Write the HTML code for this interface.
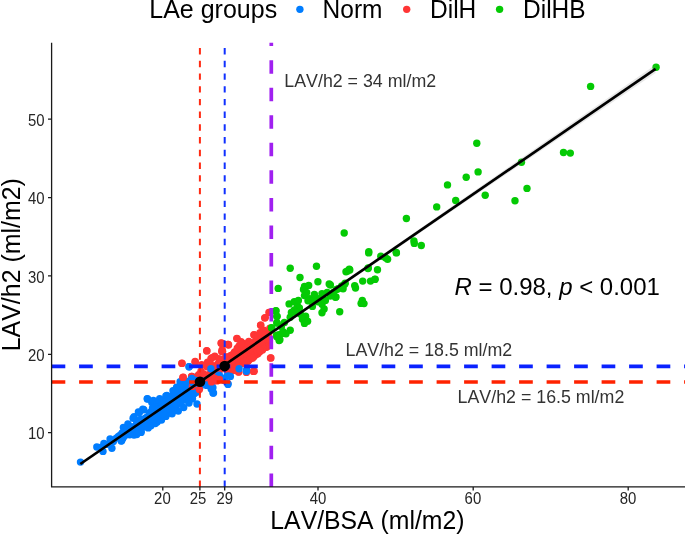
<!DOCTYPE html>
<html lang="en"><head><meta charset="utf-8"><title>LAV/BSA vs LAV/h2</title>
<style>html,body{margin:0;padding:0;background:#fff}body{width:685px;height:535px;overflow:hidden}</style></head>
<body>
<svg width="685" height="535" viewBox="0 0 685 535" style="display:block;font-family:'Liberation Sans',Arial,sans-serif;font-kerning:none;will-change:transform">
<rect width="685" height="535" fill="#fff"/>
<g fill="#007dff"><circle cx="80.5" cy="462.1" r="3.7"/><circle cx="96.8" cy="447.0" r="3.7"/><circle cx="103.0" cy="451.4" r="3.7"/><circle cx="111.9" cy="448.2" r="3.7"/><circle cx="103.9" cy="443.4" r="3.7"/><circle cx="110.1" cy="439.0" r="3.7"/><circle cx="116.3" cy="438.1" r="3.7"/><circle cx="121.6" cy="440.8" r="3.7"/><circle cx="123.4" cy="427.4" r="3.7"/><circle cx="127.9" cy="423.9" r="3.7"/><circle cx="134.1" cy="416.8" r="3.7"/><circle cx="139.4" cy="412.4" r="3.7"/><circle cx="143.8" cy="409.7" r="3.7"/><circle cx="147.4" cy="399.0" r="3.7"/><circle cx="151.8" cy="402.6" r="3.7"/><circle cx="131.4" cy="433.7" r="3.7"/><circle cx="136.7" cy="434.5" r="3.7"/><circle cx="141.2" cy="431.0" r="3.7"/><circle cx="145.6" cy="426.6" r="3.7"/><circle cx="150.9" cy="425.7" r="3.7"/><circle cx="157.2" cy="422.1" r="3.7"/><circle cx="161.6" cy="417.7" r="3.7"/><circle cx="166.9" cy="414.1" r="3.7"/><circle cx="174.0" cy="410.6" r="3.7"/><circle cx="159.8" cy="399.9" r="3.7"/><circle cx="166.9" cy="395.5" r="3.7"/><circle cx="174.0" cy="391.1" r="3.7"/><circle cx="177.6" cy="387.5" r="3.7"/><circle cx="147.3" cy="398.7" r="3.7"/><circle cx="153.4" cy="400.4" r="3.7"/><circle cx="159.7" cy="398.7" r="3.7"/><circle cx="165.9" cy="396.0" r="3.7"/><circle cx="173.0" cy="390.7" r="3.7"/><circle cx="176.6" cy="387.1" r="3.7"/><circle cx="180.1" cy="381.8" r="3.7"/><circle cx="183.7" cy="380.0" r="3.7"/><circle cx="187.4" cy="381.4" r="3.7"/><circle cx="134.0" cy="435.0" r="3.7"/><circle cx="141.1" cy="432.4" r="3.7"/><circle cx="148.2" cy="427.9" r="3.7"/><circle cx="155.3" cy="423.5" r="3.7"/><circle cx="161.5" cy="420.0" r="3.7"/><circle cx="165.9" cy="416.4" r="3.7"/><circle cx="172.1" cy="413.7" r="3.7"/><circle cx="178.3" cy="411.1" r="3.7"/><circle cx="183.7" cy="407.5" r="3.7"/><circle cx="189.0" cy="403.1" r="3.7"/><circle cx="192.5" cy="398.7" r="3.7"/><circle cx="197.0" cy="404.0" r="3.7"/><circle cx="206.7" cy="385.4" r="3.7"/><circle cx="211.2" cy="388.9" r="3.7"/><circle cx="213.0" cy="393.0" r="3.7"/><circle cx="228.0" cy="383.6" r="3.7"/><circle cx="219.2" cy="374.7" r="3.7"/><circle cx="227.1" cy="375.6" r="3.7"/><circle cx="211.2" cy="369.4" r="3.7"/><circle cx="189.0" cy="366.7" r="3.7"/><circle cx="192.5" cy="378.2" r="3.7"/><circle cx="246.7" cy="369.4" r="3.7"/><circle cx="142.8" cy="409.3" r="3.7"/><circle cx="138.4" cy="412.0" r="3.7"/><circle cx="133.1" cy="418.2" r="3.7"/><circle cx="100.4" cy="447.4" r="3.7"/><circle cx="106.4" cy="444.4" r="3.7"/><circle cx="113.4" cy="441.4" r="3.7"/><circle cx="118.4" cy="436.4" r="3.7"/><circle cx="125.4" cy="432.4" r="3.7"/><circle cx="128.4" cy="429.4" r="3.7"/><circle cx="130.1" cy="427.9" r="3.7"/><circle cx="139.9" cy="420.0" r="3.7"/><circle cx="136.5" cy="425.5" r="3.7"/><circle cx="122.1" cy="437.0" r="3.7"/><circle cx="121.5" cy="436.7" r="3.7"/><circle cx="122.5" cy="432.9" r="3.7"/><circle cx="133.1" cy="432.4" r="3.7"/><circle cx="124.1" cy="433.0" r="3.7"/><circle cx="139.2" cy="429.5" r="3.7"/><circle cx="137.7" cy="424.9" r="3.7"/><circle cx="149.7" cy="412.6" r="3.7"/><circle cx="146.2" cy="417.8" r="3.7"/><circle cx="124.7" cy="431.5" r="3.7"/><circle cx="129.7" cy="434.7" r="3.7"/><circle cx="125.8" cy="435.1" r="3.7"/><circle cx="139.6" cy="423.3" r="3.7"/><circle cx="136.8" cy="422.2" r="3.7"/><circle cx="122.2" cy="434.2" r="3.7"/><circle cx="140.8" cy="423.0" r="3.7"/><circle cx="129.8" cy="432.3" r="3.7"/><circle cx="134.0" cy="426.6" r="3.7"/><circle cx="144.2" cy="423.5" r="3.7"/><circle cx="127.7" cy="433.7" r="3.7"/><circle cx="136.2" cy="430.8" r="3.7"/><circle cx="142.3" cy="420.5" r="3.7"/><circle cx="149.8" cy="413.3" r="3.7"/><circle cx="132.9" cy="431.8" r="3.7"/><circle cx="125.0" cy="434.8" r="3.7"/><circle cx="121.6" cy="438.8" r="3.7"/><circle cx="143.3" cy="422.8" r="3.7"/><circle cx="146.7" cy="417.7" r="3.7"/><circle cx="141.3" cy="424.4" r="3.7"/><circle cx="137.8" cy="425.5" r="3.7"/><circle cx="145.6" cy="425.2" r="3.7"/><circle cx="134.6" cy="429.8" r="3.7"/><circle cx="122.2" cy="438.7" r="3.7"/><circle cx="139.8" cy="429.6" r="3.7"/><circle cx="145.1" cy="418.5" r="3.7"/><circle cx="132.0" cy="431.6" r="3.7"/><circle cx="121.1" cy="437.3" r="3.7"/><circle cx="125.4" cy="431.0" r="3.7"/><circle cx="122.2" cy="439.3" r="3.7"/><circle cx="124.3" cy="433.1" r="3.7"/><circle cx="132.1" cy="433.5" r="3.7"/><circle cx="122.8" cy="436.0" r="3.7"/><circle cx="136.9" cy="430.4" r="3.7"/><circle cx="145.0" cy="424.7" r="3.7"/><circle cx="128.8" cy="431.4" r="3.7"/><circle cx="131.2" cy="434.3" r="3.7"/><circle cx="149.1" cy="414.1" r="3.7"/><circle cx="125.7" cy="431.9" r="3.7"/><circle cx="127.4" cy="433.1" r="3.7"/><circle cx="138.1" cy="423.3" r="3.7"/><circle cx="120.5" cy="437.3" r="3.7"/><circle cx="131.5" cy="431.0" r="3.7"/><circle cx="149.0" cy="420.1" r="3.7"/><circle cx="135.9" cy="428.4" r="3.7"/><circle cx="140.7" cy="419.2" r="3.7"/><circle cx="147.4" cy="422.2" r="3.7"/><circle cx="146.6" cy="422.9" r="3.7"/><circle cx="132.2" cy="428.9" r="3.7"/><circle cx="123.5" cy="437.2" r="3.7"/><circle cx="122.3" cy="432.9" r="3.7"/><circle cx="126.7" cy="430.5" r="3.7"/><circle cx="130.6" cy="426.6" r="3.7"/><circle cx="120.4" cy="435.0" r="3.7"/><circle cx="123.4" cy="434.7" r="3.7"/><circle cx="121.2" cy="441.0" r="3.7"/><circle cx="138.8" cy="421.6" r="3.7"/><circle cx="128.0" cy="431.4" r="3.7"/><circle cx="168.6" cy="397.8" r="3.7"/><circle cx="192.8" cy="395.0" r="3.7"/><circle cx="173.7" cy="399.5" r="3.7"/><circle cx="154.7" cy="407.7" r="3.7"/><circle cx="167.5" cy="400.6" r="3.7"/><circle cx="191.8" cy="381.3" r="3.7"/><circle cx="151.6" cy="421.1" r="3.7"/><circle cx="176.8" cy="392.1" r="3.7"/><circle cx="177.6" cy="389.7" r="3.7"/><circle cx="176.8" cy="405.1" r="3.7"/><circle cx="193.6" cy="389.3" r="3.7"/><circle cx="163.5" cy="405.0" r="3.7"/><circle cx="158.8" cy="414.0" r="3.7"/><circle cx="177.0" cy="401.8" r="3.7"/><circle cx="166.9" cy="400.5" r="3.7"/><circle cx="191.0" cy="396.0" r="3.7"/><circle cx="193.0" cy="391.6" r="3.7"/><circle cx="191.3" cy="391.6" r="3.7"/><circle cx="161.7" cy="408.4" r="3.7"/><circle cx="168.2" cy="396.7" r="3.7"/><circle cx="151.8" cy="412.2" r="3.7"/><circle cx="163.4" cy="409.8" r="3.7"/><circle cx="198.2" cy="381.8" r="3.7"/><circle cx="197.3" cy="392.0" r="3.7"/><circle cx="198.2" cy="380.4" r="3.7"/><circle cx="161.4" cy="404.5" r="3.7"/><circle cx="160.2" cy="405.0" r="3.7"/><circle cx="181.6" cy="400.7" r="3.7"/><circle cx="192.4" cy="386.4" r="3.7"/><circle cx="183.0" cy="398.2" r="3.7"/><circle cx="154.6" cy="415.2" r="3.7"/><circle cx="195.9" cy="389.3" r="3.7"/><circle cx="187.9" cy="389.5" r="3.7"/><circle cx="159.3" cy="413.8" r="3.7"/><circle cx="167.0" cy="408.9" r="3.7"/><circle cx="199.0" cy="380.3" r="3.7"/><circle cx="170.5" cy="408.8" r="3.7"/><circle cx="186.6" cy="385.3" r="3.7"/><circle cx="156.8" cy="406.8" r="3.7"/><circle cx="195.6" cy="389.9" r="3.7"/><circle cx="157.7" cy="415.4" r="3.7"/><circle cx="199.4" cy="384.7" r="3.7"/><circle cx="167.9" cy="404.5" r="3.7"/><circle cx="156.9" cy="404.8" r="3.7"/><circle cx="198.9" cy="384.9" r="3.7"/><circle cx="176.7" cy="404.5" r="3.7"/><circle cx="172.1" cy="406.6" r="3.7"/><circle cx="191.7" cy="382.3" r="3.7"/><circle cx="163.0" cy="404.3" r="3.7"/><circle cx="162.4" cy="408.9" r="3.7"/><circle cx="163.4" cy="405.8" r="3.7"/><circle cx="157.0" cy="417.1" r="3.7"/><circle cx="168.1" cy="403.1" r="3.7"/><circle cx="179.6" cy="402.1" r="3.7"/><circle cx="171.4" cy="407.7" r="3.7"/><circle cx="175.5" cy="399.0" r="3.7"/><circle cx="176.6" cy="390.3" r="3.7"/><circle cx="172.4" cy="395.9" r="3.7"/><circle cx="150.6" cy="419.8" r="3.7"/><circle cx="159.0" cy="409.7" r="3.7"/><circle cx="186.7" cy="391.7" r="3.7"/><circle cx="166.7" cy="404.9" r="3.7"/><circle cx="178.2" cy="401.2" r="3.7"/><circle cx="155.7" cy="413.1" r="3.7"/><circle cx="162.8" cy="404.2" r="3.7"/><circle cx="189.0" cy="389.3" r="3.7"/><circle cx="178.5" cy="400.6" r="3.7"/><circle cx="196.0" cy="383.2" r="3.7"/><circle cx="181.0" cy="394.8" r="3.7"/><circle cx="176.0" cy="401.2" r="3.7"/><circle cx="173.0" cy="400.8" r="3.7"/><circle cx="174.3" cy="406.2" r="3.7"/><circle cx="185.4" cy="397.9" r="3.7"/><circle cx="197.5" cy="378.9" r="3.7"/><circle cx="178.4" cy="403.5" r="3.7"/><circle cx="192.4" cy="380.5" r="3.7"/><circle cx="156.5" cy="411.0" r="3.7"/><circle cx="154.0" cy="410.0" r="3.7"/><circle cx="154.1" cy="415.7" r="3.7"/><circle cx="189.6" cy="395.4" r="3.7"/><circle cx="158.1" cy="413.6" r="3.7"/><circle cx="183.4" cy="387.2" r="3.7"/><circle cx="194.5" cy="393.4" r="3.7"/><circle cx="161.4" cy="414.8" r="3.7"/><circle cx="170.3" cy="402.0" r="3.7"/><circle cx="199.9" cy="387.5" r="3.7"/><circle cx="158.5" cy="409.5" r="3.7"/><circle cx="176.2" cy="395.6" r="3.7"/><circle cx="160.2" cy="406.7" r="3.7"/><circle cx="186.5" cy="382.9" r="3.7"/><circle cx="178.1" cy="395.8" r="3.7"/><circle cx="151.3" cy="413.2" r="3.7"/><circle cx="181.6" cy="394.5" r="3.7"/><circle cx="153.6" cy="420.3" r="3.7"/><circle cx="189.8" cy="396.6" r="3.7"/><circle cx="155.6" cy="409.2" r="3.7"/><circle cx="152.4" cy="418.3" r="3.7"/><circle cx="163.9" cy="401.3" r="3.7"/><circle cx="171.5" cy="407.5" r="3.7"/><circle cx="191.3" cy="383.4" r="3.7"/><circle cx="157.9" cy="416.6" r="3.7"/><circle cx="178.9" cy="399.3" r="3.7"/><circle cx="154.9" cy="407.0" r="3.7"/><circle cx="184.8" cy="390.8" r="3.7"/><circle cx="154.0" cy="419.4" r="3.7"/><circle cx="182.1" cy="398.8" r="3.7"/><circle cx="154.6" cy="417.9" r="3.7"/><circle cx="153.7" cy="418.5" r="3.7"/><circle cx="173.1" cy="397.8" r="3.7"/><circle cx="178.1" cy="403.5" r="3.7"/><circle cx="163.8" cy="401.4" r="3.7"/><circle cx="176.7" cy="393.6" r="3.7"/><circle cx="155.9" cy="407.6" r="3.7"/><circle cx="152.9" cy="410.3" r="3.7"/><circle cx="166.0" cy="402.3" r="3.7"/><circle cx="188.4" cy="386.0" r="3.7"/><circle cx="175.4" cy="393.6" r="3.7"/><circle cx="167.8" cy="396.8" r="3.7"/><circle cx="162.9" cy="400.4" r="3.7"/><circle cx="187.1" cy="391.3" r="3.7"/><circle cx="159.9" cy="409.1" r="3.7"/><circle cx="197.1" cy="376.5" r="3.7"/><circle cx="191.3" cy="386.3" r="3.7"/><circle cx="175.2" cy="404.0" r="3.7"/><circle cx="170.1" cy="402.4" r="3.7"/><circle cx="184.8" cy="400.0" r="3.7"/><circle cx="167.5" cy="409.0" r="3.7"/><circle cx="185.7" cy="393.7" r="3.7"/><circle cx="170.6" cy="399.6" r="3.7"/><circle cx="153.1" cy="409.2" r="3.7"/><circle cx="153.9" cy="416.8" r="3.7"/><circle cx="163.2" cy="402.3" r="3.7"/><circle cx="154.6" cy="417.7" r="3.7"/><circle cx="193.9" cy="388.7" r="3.7"/><circle cx="164.5" cy="402.5" r="3.7"/><circle cx="165.1" cy="405.2" r="3.7"/><circle cx="158.3" cy="409.8" r="3.7"/><circle cx="163.6" cy="413.5" r="3.7"/><circle cx="199.0" cy="383.0" r="3.7"/><circle cx="162.6" cy="414.1" r="3.7"/><circle cx="165.9" cy="403.2" r="3.7"/><circle cx="150.5" cy="414.5" r="3.7"/><circle cx="174.1" cy="399.5" r="3.7"/><circle cx="160.4" cy="409.1" r="3.7"/><circle cx="150.6" cy="412.8" r="3.7"/><circle cx="154.9" cy="411.6" r="3.7"/><circle cx="152.5" cy="408.3" r="3.7"/><circle cx="165.6" cy="401.6" r="3.7"/><circle cx="179.7" cy="396.1" r="3.7"/><circle cx="187.9" cy="392.5" r="3.7"/><circle cx="186.2" cy="397.4" r="3.7"/><circle cx="169.9" cy="399.9" r="3.7"/><circle cx="199.6" cy="375.4" r="3.7"/><circle cx="186.6" cy="393.2" r="3.7"/><circle cx="152.6" cy="418.9" r="3.7"/><circle cx="195.0" cy="387.2" r="3.7"/><circle cx="187.1" cy="395.7" r="3.7"/><circle cx="157.4" cy="411.5" r="3.7"/><circle cx="175.6" cy="403.7" r="3.7"/><circle cx="190.6" cy="393.6" r="3.7"/><circle cx="179.6" cy="401.9" r="3.7"/><circle cx="184.5" cy="395.4" r="3.7"/><circle cx="161.9" cy="401.4" r="3.7"/><circle cx="157.1" cy="409.5" r="3.7"/><circle cx="155.6" cy="416.9" r="3.7"/><circle cx="178.3" cy="398.6" r="3.7"/><circle cx="181.7" cy="397.1" r="3.7"/><circle cx="174.9" cy="391.3" r="3.7"/><circle cx="190.3" cy="392.5" r="3.7"/><circle cx="175.5" cy="399.1" r="3.7"/><circle cx="206.9" cy="377.2" r="3.7"/><circle cx="208.2" cy="377.9" r="3.7"/><circle cx="197.6" cy="385.2" r="3.7"/><circle cx="208.1" cy="377.6" r="3.7"/><circle cx="208.2" cy="383.6" r="3.7"/><circle cx="204.3" cy="381.6" r="3.7"/><circle cx="204.1" cy="384.1" r="3.7"/><circle cx="208.7" cy="380.4" r="3.7"/><circle cx="206.7" cy="377.5" r="3.7"/><circle cx="198.8" cy="384.3" r="3.7"/><circle cx="208.3" cy="378.2" r="3.7"/><circle cx="205.5" cy="377.8" r="3.7"/><circle cx="197.4" cy="385.4" r="3.7"/><circle cx="207.2" cy="382.1" r="3.7"/></g>
<g fill="#ff3535"><circle cx="221.1" cy="343.2" r="3.7"/><circle cx="228.2" cy="344.5" r="3.7"/><circle cx="237.0" cy="338.6" r="3.7"/><circle cx="222.1" cy="349.9" r="3.7"/><circle cx="253.9" cy="335.0" r="3.7"/><circle cx="260.6" cy="325.2" r="3.7"/><circle cx="264.7" cy="318.0" r="3.7"/><circle cx="269.4" cy="312.4" r="3.7"/><circle cx="263.7" cy="330.9" r="3.7"/><circle cx="241.1" cy="341.6" r="3.7"/><circle cx="269.9" cy="328.3" r="3.7"/><circle cx="181.9" cy="363.2" r="3.7"/><circle cx="182.8" cy="377.4" r="3.7"/><circle cx="191.6" cy="376.5" r="3.7"/><circle cx="195.2" cy="362.3" r="3.7"/><circle cx="198.7" cy="374.7" r="3.7"/><circle cx="206.7" cy="350.7" r="3.7"/><circle cx="212.0" cy="357.8" r="3.7"/><circle cx="221.8" cy="351.6" r="3.7"/><circle cx="238.7" cy="372.0" r="3.7"/><circle cx="233.4" cy="369.4" r="3.7"/><circle cx="213.8" cy="380.9" r="3.7"/><circle cx="210.3" cy="380.0" r="3.7"/><circle cx="270.9" cy="357.9" r="3.7"/><circle cx="253.4" cy="371.4" r="3.7"/><circle cx="246.4" cy="372.4" r="3.7"/><circle cx="192.4" cy="386.4" r="3.7"/><circle cx="199.4" cy="389.4" r="3.7"/><circle cx="221.2" cy="363.1" r="3.7"/><circle cx="218.2" cy="367.1" r="3.7"/><circle cx="217.3" cy="365.2" r="3.7"/><circle cx="225.4" cy="358.6" r="3.7"/><circle cx="227.0" cy="364.8" r="3.7"/><circle cx="208.7" cy="374.9" r="3.7"/><circle cx="224.0" cy="367.2" r="3.7"/><circle cx="216.9" cy="366.7" r="3.7"/><circle cx="212.4" cy="375.1" r="3.7"/><circle cx="212.4" cy="372.7" r="3.7"/><circle cx="211.1" cy="373.4" r="3.7"/><circle cx="226.5" cy="356.9" r="3.7"/><circle cx="224.0" cy="362.8" r="3.7"/><circle cx="225.3" cy="363.7" r="3.7"/><circle cx="212.8" cy="374.5" r="3.7"/><circle cx="217.6" cy="364.1" r="3.7"/><circle cx="208.5" cy="375.3" r="3.7"/><circle cx="217.0" cy="366.9" r="3.7"/><circle cx="211.1" cy="372.3" r="3.7"/><circle cx="214.4" cy="372.9" r="3.7"/><circle cx="208.4" cy="376.8" r="3.7"/><circle cx="224.3" cy="358.7" r="3.7"/><circle cx="226.0" cy="363.2" r="3.7"/><circle cx="225.5" cy="359.3" r="3.7"/><circle cx="215.5" cy="368.9" r="3.7"/><circle cx="227.4" cy="360.9" r="3.7"/><circle cx="215.3" cy="369.3" r="3.7"/><circle cx="213.6" cy="368.1" r="3.7"/><circle cx="210.3" cy="375.9" r="3.7"/><circle cx="213.8" cy="374.0" r="3.7"/><circle cx="213.1" cy="370.0" r="3.7"/><circle cx="218.1" cy="365.0" r="3.7"/><circle cx="215.5" cy="373.0" r="3.7"/><circle cx="225.2" cy="364.8" r="3.7"/><circle cx="220.4" cy="369.2" r="3.7"/><circle cx="226.3" cy="361.3" r="3.7"/><circle cx="222.1" cy="360.2" r="3.7"/><circle cx="222.3" cy="363.6" r="3.7"/><circle cx="222.7" cy="365.1" r="3.7"/><circle cx="213.8" cy="367.9" r="3.7"/><circle cx="226.0" cy="357.3" r="3.7"/><circle cx="217.4" cy="366.9" r="3.7"/><circle cx="214.1" cy="372.5" r="3.7"/><circle cx="226.9" cy="357.8" r="3.7"/><circle cx="220.9" cy="363.5" r="3.7"/><circle cx="239.8" cy="355.7" r="3.7"/><circle cx="230.4" cy="358.1" r="3.7"/><circle cx="231.4" cy="369.1" r="3.7"/><circle cx="238.3" cy="353.8" r="3.7"/><circle cx="248.2" cy="361.1" r="3.7"/><circle cx="237.2" cy="353.2" r="3.7"/><circle cx="231.0" cy="356.6" r="3.7"/><circle cx="234.6" cy="354.2" r="3.7"/><circle cx="232.1" cy="358.5" r="3.7"/><circle cx="240.1" cy="363.8" r="3.7"/><circle cx="244.4" cy="353.1" r="3.7"/><circle cx="236.3" cy="360.0" r="3.7"/><circle cx="235.4" cy="357.6" r="3.7"/><circle cx="227.9" cy="361.5" r="3.7"/><circle cx="249.6" cy="344.6" r="3.7"/><circle cx="238.5" cy="360.4" r="3.7"/><circle cx="247.1" cy="347.9" r="3.7"/><circle cx="232.9" cy="357.8" r="3.7"/><circle cx="236.0" cy="359.0" r="3.7"/><circle cx="249.3" cy="357.8" r="3.7"/><circle cx="247.3" cy="344.3" r="3.7"/><circle cx="227.2" cy="368.5" r="3.7"/><circle cx="247.9" cy="351.9" r="3.7"/><circle cx="240.5" cy="348.7" r="3.7"/><circle cx="235.8" cy="366.9" r="3.7"/><circle cx="246.2" cy="359.7" r="3.7"/><circle cx="249.7" cy="346.8" r="3.7"/><circle cx="229.0" cy="358.9" r="3.7"/><circle cx="238.9" cy="361.0" r="3.7"/><circle cx="249.0" cy="355.7" r="3.7"/><circle cx="241.9" cy="360.6" r="3.7"/><circle cx="237.4" cy="359.8" r="3.7"/><circle cx="227.3" cy="369.5" r="3.7"/><circle cx="232.0" cy="368.9" r="3.7"/><circle cx="241.9" cy="352.8" r="3.7"/><circle cx="229.5" cy="360.1" r="3.7"/><circle cx="241.7" cy="359.7" r="3.7"/><circle cx="229.1" cy="357.6" r="3.7"/><circle cx="239.0" cy="359.3" r="3.7"/><circle cx="235.7" cy="355.6" r="3.7"/><circle cx="240.8" cy="348.6" r="3.7"/><circle cx="233.6" cy="360.7" r="3.7"/><circle cx="249.4" cy="354.0" r="3.7"/><circle cx="247.6" cy="352.2" r="3.7"/><circle cx="232.0" cy="358.3" r="3.7"/><circle cx="249.5" cy="355.1" r="3.7"/><circle cx="233.8" cy="353.6" r="3.7"/><circle cx="238.4" cy="361.2" r="3.7"/><circle cx="236.5" cy="355.6" r="3.7"/><circle cx="242.4" cy="363.1" r="3.7"/><circle cx="231.8" cy="355.1" r="3.7"/><circle cx="234.5" cy="359.5" r="3.7"/><circle cx="242.8" cy="350.5" r="3.7"/><circle cx="245.5" cy="358.0" r="3.7"/><circle cx="238.5" cy="353.4" r="3.7"/><circle cx="249.7" cy="347.9" r="3.7"/><circle cx="246.1" cy="348.8" r="3.7"/><circle cx="231.7" cy="366.6" r="3.7"/><circle cx="233.5" cy="368.6" r="3.7"/><circle cx="238.3" cy="353.2" r="3.7"/><circle cx="231.8" cy="361.2" r="3.7"/><circle cx="242.4" cy="363.5" r="3.7"/><circle cx="229.9" cy="362.0" r="3.7"/><circle cx="231.5" cy="370.1" r="3.7"/><circle cx="229.8" cy="356.8" r="3.7"/><circle cx="227.8" cy="363.3" r="3.7"/><circle cx="248.0" cy="359.2" r="3.7"/><circle cx="244.0" cy="363.4" r="3.7"/><circle cx="248.8" cy="348.8" r="3.7"/><circle cx="230.9" cy="369.8" r="3.7"/><circle cx="244.3" cy="346.6" r="3.7"/><circle cx="242.3" cy="353.8" r="3.7"/><circle cx="235.4" cy="357.5" r="3.7"/><circle cx="230.5" cy="355.6" r="3.7"/><circle cx="233.1" cy="359.3" r="3.7"/><circle cx="249.3" cy="344.8" r="3.7"/><circle cx="249.5" cy="346.1" r="3.7"/><circle cx="235.0" cy="365.7" r="3.7"/><circle cx="246.1" cy="352.3" r="3.7"/><circle cx="227.6" cy="364.7" r="3.7"/><circle cx="235.3" cy="367.0" r="3.7"/><circle cx="231.0" cy="360.8" r="3.7"/><circle cx="247.9" cy="344.1" r="3.7"/><circle cx="236.3" cy="364.7" r="3.7"/><circle cx="244.8" cy="346.4" r="3.7"/><circle cx="227.2" cy="358.7" r="3.7"/><circle cx="248.5" cy="347.7" r="3.7"/><circle cx="244.3" cy="361.5" r="3.7"/><circle cx="234.5" cy="357.1" r="3.7"/><circle cx="249.4" cy="353.6" r="3.7"/><circle cx="232.7" cy="365.3" r="3.7"/><circle cx="234.0" cy="357.5" r="3.7"/><circle cx="226.5" cy="369.6" r="3.7"/><circle cx="248.4" cy="354.5" r="3.7"/><circle cx="249.0" cy="343.2" r="3.7"/><circle cx="232.0" cy="361.9" r="3.7"/><circle cx="249.4" cy="359.6" r="3.7"/><circle cx="235.7" cy="356.0" r="3.7"/><circle cx="236.7" cy="359.3" r="3.7"/><circle cx="248.7" cy="346.3" r="3.7"/><circle cx="245.7" cy="358.0" r="3.7"/><circle cx="246.1" cy="358.3" r="3.7"/><circle cx="241.0" cy="353.8" r="3.7"/><circle cx="234.1" cy="358.8" r="3.7"/><circle cx="245.2" cy="346.8" r="3.7"/><circle cx="231.1" cy="366.8" r="3.7"/><circle cx="232.3" cy="355.3" r="3.7"/><circle cx="227.2" cy="366.1" r="3.7"/><circle cx="234.2" cy="368.6" r="3.7"/><circle cx="247.6" cy="361.2" r="3.7"/><circle cx="232.8" cy="355.3" r="3.7"/><circle cx="228.7" cy="364.4" r="3.7"/><circle cx="243.4" cy="354.3" r="3.7"/><circle cx="232.0" cy="361.0" r="3.7"/><circle cx="241.3" cy="359.5" r="3.7"/><circle cx="244.4" cy="360.6" r="3.7"/><circle cx="242.3" cy="349.4" r="3.7"/><circle cx="246.6" cy="349.6" r="3.7"/><circle cx="240.0" cy="355.2" r="3.7"/><circle cx="244.1" cy="349.6" r="3.7"/><circle cx="255.1" cy="343.7" r="3.7"/><circle cx="253.3" cy="355.6" r="3.7"/><circle cx="261.4" cy="340.5" r="3.7"/><circle cx="257.9" cy="353.8" r="3.7"/><circle cx="260.0" cy="339.9" r="3.7"/><circle cx="265.8" cy="342.4" r="3.7"/><circle cx="269.2" cy="331.5" r="3.7"/><circle cx="259.4" cy="349.8" r="3.7"/><circle cx="266.4" cy="345.9" r="3.7"/><circle cx="251.2" cy="347.3" r="3.7"/><circle cx="252.7" cy="344.5" r="3.7"/><circle cx="268.9" cy="338.9" r="3.7"/><circle cx="268.1" cy="336.3" r="3.7"/><circle cx="266.9" cy="338.4" r="3.7"/><circle cx="255.3" cy="352.3" r="3.7"/><circle cx="268.4" cy="332.1" r="3.7"/><circle cx="261.7" cy="344.9" r="3.7"/><circle cx="254.5" cy="346.1" r="3.7"/><circle cx="253.1" cy="344.4" r="3.7"/><circle cx="255.2" cy="349.4" r="3.7"/><circle cx="262.8" cy="337.5" r="3.7"/><circle cx="250.6" cy="348.3" r="3.7"/><circle cx="263.3" cy="336.9" r="3.7"/><circle cx="256.3" cy="342.1" r="3.7"/><circle cx="265.5" cy="340.9" r="3.7"/><circle cx="251.6" cy="343.7" r="3.7"/><circle cx="257.9" cy="346.6" r="3.7"/><circle cx="262.5" cy="335.9" r="3.7"/><circle cx="253.5" cy="352.3" r="3.7"/><circle cx="258.2" cy="342.1" r="3.7"/><circle cx="256.2" cy="354.5" r="3.7"/><circle cx="256.3" cy="348.1" r="3.7"/><circle cx="257.2" cy="345.0" r="3.7"/><circle cx="266.8" cy="346.8" r="3.7"/><circle cx="257.3" cy="341.3" r="3.7"/><circle cx="264.2" cy="336.5" r="3.7"/><circle cx="250.5" cy="358.1" r="3.7"/><circle cx="258.5" cy="350.6" r="3.7"/><circle cx="258.1" cy="351.8" r="3.7"/><circle cx="259.2" cy="339.4" r="3.7"/><circle cx="250.7" cy="352.0" r="3.7"/><circle cx="262.6" cy="348.8" r="3.7"/><circle cx="252.1" cy="352.2" r="3.7"/><circle cx="257.4" cy="346.2" r="3.7"/><circle cx="253.2" cy="345.7" r="3.7"/><circle cx="260.3" cy="350.8" r="3.7"/><circle cx="252.5" cy="349.7" r="3.7"/><circle cx="265.7" cy="347.2" r="3.7"/><circle cx="254.1" cy="342.4" r="3.7"/><circle cx="268.3" cy="345.3" r="3.7"/><circle cx="259.6" cy="337.4" r="3.7"/><circle cx="268.0" cy="336.6" r="3.7"/><circle cx="267.6" cy="340.5" r="3.7"/><circle cx="266.1" cy="334.6" r="3.7"/><circle cx="265.3" cy="336.0" r="3.7"/><circle cx="258.1" cy="351.3" r="3.7"/><circle cx="266.2" cy="334.8" r="3.7"/><circle cx="254.5" cy="346.6" r="3.7"/><circle cx="260.2" cy="342.2" r="3.7"/><circle cx="252.7" cy="345.4" r="3.7"/><circle cx="264.2" cy="347.3" r="3.7"/><circle cx="251.2" cy="351.8" r="3.7"/><circle cx="264.8" cy="333.6" r="3.7"/><circle cx="266.3" cy="333.7" r="3.7"/><circle cx="261.8" cy="343.7" r="3.7"/><circle cx="262.3" cy="339.5" r="3.7"/><circle cx="258.4" cy="346.8" r="3.7"/><circle cx="258.5" cy="347.9" r="3.7"/><circle cx="258.9" cy="344.1" r="3.7"/><circle cx="250.8" cy="353.0" r="3.7"/><circle cx="259.7" cy="340.2" r="3.7"/><circle cx="264.9" cy="345.0" r="3.7"/><circle cx="259.1" cy="339.8" r="3.7"/><circle cx="259.4" cy="338.4" r="3.7"/><circle cx="252.8" cy="348.4" r="3.7"/><circle cx="252.1" cy="349.1" r="3.7"/><circle cx="260.1" cy="336.8" r="3.7"/><circle cx="262.5" cy="335.8" r="3.7"/><circle cx="264.3" cy="345.4" r="3.7"/><circle cx="260.1" cy="337.0" r="3.7"/><circle cx="260.0" cy="342.3" r="3.7"/><circle cx="268.5" cy="332.5" r="3.7"/><circle cx="266.7" cy="346.9" r="3.7"/><circle cx="264.3" cy="346.0" r="3.7"/><circle cx="254.1" cy="356.6" r="3.7"/><circle cx="259.7" cy="351.8" r="3.7"/><circle cx="267.8" cy="333.4" r="3.7"/><circle cx="265.4" cy="346.9" r="3.7"/><circle cx="251.6" cy="347.9" r="3.7"/><circle cx="264.8" cy="335.4" r="3.7"/><circle cx="267.4" cy="335.3" r="3.7"/><circle cx="265.9" cy="334.4" r="3.7"/><circle cx="259.9" cy="351.0" r="3.7"/><circle cx="254.4" cy="344.5" r="3.7"/><circle cx="260.0" cy="341.3" r="3.7"/><circle cx="251.1" cy="345.5" r="3.7"/><circle cx="253.5" cy="356.4" r="3.7"/><circle cx="263.3" cy="348.0" r="3.7"/><circle cx="253.6" cy="353.7" r="3.7"/><circle cx="252.6" cy="350.2" r="3.7"/><circle cx="262.5" cy="340.2" r="3.7"/><circle cx="267.0" cy="339.9" r="3.7"/><circle cx="261.4" cy="349.3" r="3.7"/><circle cx="252.4" cy="358.2" r="3.7"/><circle cx="262.4" cy="340.8" r="3.7"/><circle cx="265.6" cy="336.5" r="3.7"/><circle cx="269.2" cy="338.6" r="3.7"/><circle cx="257.2" cy="350.6" r="3.7"/><circle cx="258.8" cy="339.9" r="3.7"/><circle cx="264.5" cy="333.9" r="3.7"/><circle cx="266.0" cy="336.0" r="3.7"/><circle cx="262.5" cy="350.0" r="3.7"/><circle cx="261.5" cy="345.7" r="3.7"/><circle cx="256.3" cy="338.8" r="3.7"/><circle cx="251.0" cy="344.9" r="3.7"/><circle cx="262.1" cy="341.6" r="3.7"/><circle cx="260.1" cy="350.5" r="3.7"/><circle cx="252.9" cy="344.9" r="3.7"/><circle cx="262.8" cy="334.7" r="3.7"/><circle cx="250.4" cy="348.8" r="3.7"/><circle cx="227.9" cy="344.5" r="3.7"/><circle cx="222.6" cy="343.8" r="3.7"/><circle cx="222.6" cy="351.3" r="3.7"/><circle cx="236.9" cy="338.5" r="3.7"/><circle cx="241.3" cy="343.0" r="3.7"/><circle cx="234.6" cy="352.0" r="3.7"/><circle cx="239.1" cy="346.0" r="3.7"/><circle cx="244.3" cy="343.8" r="3.7"/><circle cx="248.8" cy="341.5" r="3.7"/><circle cx="254.1" cy="334.8" r="3.7"/><circle cx="257.8" cy="336.3" r="3.7"/><circle cx="260.8" cy="325.1" r="3.7"/><circle cx="263.8" cy="330.3" r="3.7"/><circle cx="265.3" cy="317.6" r="3.7"/><circle cx="269.0" cy="312.4" r="3.7"/><circle cx="270.5" cy="358.0" r="3.7"/><circle cx="260.0" cy="332.6" r="3.7"/><circle cx="265.3" cy="334.8" r="3.7"/><circle cx="266.8" cy="339.3" r="3.7"/><circle cx="182.0" cy="363.4" r="3.7"/><circle cx="195.1" cy="361.4" r="3.7"/><circle cx="206.9" cy="350.9" r="3.7"/><circle cx="221.4" cy="343.0" r="3.7"/><circle cx="228.6" cy="345.0" r="3.7"/><circle cx="222.0" cy="351.6" r="3.7"/><circle cx="214.8" cy="356.2" r="3.7"/><circle cx="210.9" cy="358.8" r="3.7"/><circle cx="207.6" cy="362.1" r="3.7"/><circle cx="218.8" cy="358.8" r="3.7"/><circle cx="210.9" cy="364.7" r="3.7"/><circle cx="206.9" cy="366.7" r="3.7"/><circle cx="201.7" cy="364.7" r="3.7"/><circle cx="201.0" cy="371.3" r="3.7"/><circle cx="203.7" cy="373.9" r="3.7"/><circle cx="183.3" cy="377.2" r="3.7"/><circle cx="191.8" cy="376.5" r="3.7"/><circle cx="209.6" cy="378.5" r="3.7"/><circle cx="212.9" cy="381.1" r="3.7"/><circle cx="208.3" cy="382.4" r="3.7"/><circle cx="228.0" cy="361.4" r="3.7"/><circle cx="234.5" cy="353.5" r="3.7"/><circle cx="237.2" cy="348.3" r="3.7"/><circle cx="241.1" cy="344.3" r="3.7"/><circle cx="238.5" cy="371.9" r="3.7"/><circle cx="233.2" cy="370.6" r="3.7"/><circle cx="254.2" cy="371.3" r="3.7"/></g>
<g fill="#007dff"><circle cx="189.2" cy="366.7" r="3.7"/><circle cx="210.9" cy="368.7" r="3.7"/><circle cx="191.8" cy="378.5" r="3.7"/><circle cx="218.8" cy="375.2" r="3.7"/><circle cx="221.4" cy="377.9" r="3.7"/><circle cx="228.0" cy="375.9" r="3.7"/><circle cx="228.0" cy="384.4" r="3.7"/><circle cx="239.1" cy="368.7" r="3.7"/><circle cx="246.4" cy="371.3" r="3.7"/><circle cx="212.9" cy="387.7" r="3.7"/><circle cx="213.5" cy="393.0" r="3.7"/><circle cx="209.6" cy="385.7" r="3.7"/><circle cx="206.9" cy="384.9" r="3.7"/><circle cx="196.4" cy="380.4" r="3.7"/><circle cx="193.4" cy="383.4" r="3.7"/><circle cx="190.4" cy="380.4" r="3.7"/><circle cx="224.4" cy="380.4" r="3.7"/><circle cx="230.4" cy="376.4" r="3.7"/></g>
<g fill="#ff3535"><circle cx="209.9" cy="377.9" r="3.7"/><circle cx="212.4" cy="379.9" r="3.7"/><circle cx="214.9" cy="378.4" r="3.7"/><circle cx="216.9" cy="380.9" r="3.7"/><circle cx="211.4" cy="381.9" r="3.7"/><circle cx="219.4" cy="379.4" r="3.7"/></g>
<g fill="#04ca04"><circle cx="656.1" cy="67.2" r="3.7"/><circle cx="590.6" cy="86.4" r="3.7"/><circle cx="563.5" cy="152.5" r="3.7"/><circle cx="570.3" cy="153.1" r="3.7"/><circle cx="521.5" cy="162.3" r="3.7"/><circle cx="527.0" cy="188.4" r="3.7"/><circle cx="476.8" cy="143.2" r="3.7"/><circle cx="478.1" cy="171.9" r="3.7"/><circle cx="466.2" cy="177.3" r="3.7"/><circle cx="447.5" cy="184.9" r="3.7"/><circle cx="455.7" cy="200.5" r="3.7"/><circle cx="485.2" cy="195.2" r="3.7"/><circle cx="436.7" cy="206.9" r="3.7"/><circle cx="406.4" cy="218.5" r="3.7"/><circle cx="413.9" cy="241.0" r="3.7"/><circle cx="414.3" cy="243.4" r="3.7"/><circle cx="421.3" cy="245.5" r="3.7"/><circle cx="515.0" cy="200.8" r="3.7"/><circle cx="344.2" cy="233.0" r="3.7"/><circle cx="368.8" cy="251.7" r="3.7"/><circle cx="396.2" cy="252.5" r="3.7"/><circle cx="380.8" cy="256.2" r="3.7"/><circle cx="387.6" cy="259.3" r="3.7"/><circle cx="385.5" cy="257.8" r="3.7"/><circle cx="368.0" cy="268.5" r="3.7"/><circle cx="377.5" cy="269.8" r="3.7"/><circle cx="349.3" cy="269.3" r="3.7"/><circle cx="346.0" cy="271.8" r="3.7"/><circle cx="374.8" cy="279.4" r="3.7"/><circle cx="370.5" cy="281.1" r="3.7"/><circle cx="362.7" cy="281.1" r="3.7"/><circle cx="354.7" cy="285.6" r="3.7"/><circle cx="355.5" cy="288.0" r="3.7"/><circle cx="345.2" cy="283.3" r="3.7"/><circle cx="341.7" cy="286.0" r="3.7"/><circle cx="343.1" cy="288.7" r="3.7"/><circle cx="338.2" cy="288.7" r="3.7"/><circle cx="336.0" cy="296.9" r="3.7"/><circle cx="330.4" cy="285.0" r="3.7"/><circle cx="330.9" cy="295.4" r="3.7"/><circle cx="362.3" cy="300.4" r="3.7"/><circle cx="290.2" cy="268.3" r="3.7"/><circle cx="316.5" cy="266.2" r="3.7"/><circle cx="300.0" cy="277.5" r="3.7"/><circle cx="317.9" cy="281.7" r="3.7"/><circle cx="329.2" cy="283.9" r="3.7"/><circle cx="278.2" cy="288.4" r="3.7"/><circle cx="347.7" cy="271.0" r="3.7"/><circle cx="349.8" cy="269.9" r="3.7"/><circle cx="368.7" cy="252.9" r="3.7"/><circle cx="396.4" cy="252.9" r="3.7"/><circle cx="368.3" cy="267.9" r="3.7"/><circle cx="375.1" cy="279.2" r="3.7"/><circle cx="344.6" cy="284.3" r="3.7"/><circle cx="341.6" cy="287.4" r="3.7"/><circle cx="336.4" cy="289.4" r="3.7"/><circle cx="361.1" cy="303.4" r="3.7"/><circle cx="364.0" cy="303.6" r="3.7"/><circle cx="339.7" cy="311.7" r="3.7"/><circle cx="304.5" cy="286.4" r="3.7"/><circle cx="308.7" cy="285.4" r="3.7"/><circle cx="303.5" cy="289.4" r="3.7"/><circle cx="306.6" cy="292.5" r="3.7"/><circle cx="304.5" cy="295.6" r="3.7"/><circle cx="309.7" cy="298.7" r="3.7"/><circle cx="308.0" cy="300.8" r="3.7"/><circle cx="322.0" cy="293.6" r="3.7"/><circle cx="327.2" cy="292.5" r="3.7"/><circle cx="330.2" cy="296.0" r="3.7"/><circle cx="335.4" cy="297.3" r="3.7"/><circle cx="318.9" cy="298.7" r="3.7"/><circle cx="317.9" cy="301.8" r="3.7"/><circle cx="322.0" cy="304.3" r="3.7"/><circle cx="324.1" cy="309.0" r="3.7"/><circle cx="322.0" cy="312.7" r="3.7"/><circle cx="289.1" cy="303.9" r="3.7"/><circle cx="294.3" cy="301.8" r="3.7"/><circle cx="297.4" cy="305.9" r="3.7"/><circle cx="299.4" cy="308.0" r="3.7"/><circle cx="294.3" cy="310.0" r="3.7"/><circle cx="290.2" cy="317.2" r="3.7"/><circle cx="275.8" cy="311.0" r="3.7"/><circle cx="276.8" cy="316.2" r="3.7"/><circle cx="276.8" cy="322.8" r="3.7"/><circle cx="271.7" cy="328.1" r="3.7"/><circle cx="300.4" cy="314.1" r="3.7"/><circle cx="305.6" cy="316.2" r="3.7"/><circle cx="302.5" cy="319.3" r="3.7"/><circle cx="307.6" cy="321.3" r="3.7"/><circle cx="304.5" cy="323.4" r="3.7"/><circle cx="290.2" cy="330.2" r="3.7"/><circle cx="283.0" cy="331.6" r="3.7"/><circle cx="286.0" cy="333.7" r="3.7"/><circle cx="278.8" cy="334.7" r="3.7"/><circle cx="279.9" cy="339.8" r="3.7"/><circle cx="276.8" cy="336.7" r="3.7"/><circle cx="276.0" cy="310.8" r="3.7"/><circle cx="277.1" cy="316.5" r="3.7"/><circle cx="277.1" cy="323.1" r="3.7"/><circle cx="271.6" cy="327.8" r="3.7"/><circle cx="279.1" cy="340.6" r="3.7"/><circle cx="282.4" cy="333.4" r="3.7"/><circle cx="276.4" cy="335.4" r="3.7"/><circle cx="313.4" cy="300.4" r="3.7"/><circle cx="312.4" cy="306.4" r="3.7"/><circle cx="296.4" cy="312.4" r="3.7"/><circle cx="291.4" cy="312.4" r="3.7"/><circle cx="284.4" cy="322.4" r="3.7"/><circle cx="281.4" cy="326.4" r="3.7"/><circle cx="298.4" cy="300.4" r="3.7"/><circle cx="325.4" cy="300.4" r="3.7"/><circle cx="333.4" cy="292.4" r="3.7"/><circle cx="314.4" cy="294.4" r="3.7"/></g>
<polygon points="80.3,462.2 94.7,452.4 109.1,442.7 123.4,432.9 137.8,423.2 152.2,413.4 166.6,403.6 181.0,393.9 195.4,384.1 209.7,374.2 224.1,364.2 238.5,354.3 252.9,344.4 267.3,334.4 281.7,324.5 296.0,314.5 310.4,304.6 324.8,294.6 339.2,284.6 353.6,274.7 368.0,264.7 382.3,254.7 396.7,244.7 411.1,234.8 425.5,224.8 439.9,214.8 454.2,204.8 468.6,194.8 483.0,184.8 497.4,174.8 511.8,164.8 526.2,154.8 540.5,144.8 554.9,134.8 569.3,124.8 583.7,114.8 598.1,104.8 612.5,94.8 626.8,84.7 641.2,74.7 655.6,64.7 655.6,73.1 641.2,82.8 626.8,92.6 612.5,102.3 598.1,112.1 583.7,121.8 569.3,131.5 554.9,141.3 540.5,151.0 526.2,160.8 511.8,170.5 497.4,180.3 483.0,190.1 468.6,199.8 454.2,209.6 439.9,219.3 425.5,229.1 411.1,238.9 396.7,248.7 382.3,258.4 368.0,268.2 353.6,278.0 339.2,287.8 324.8,297.6 310.4,307.4 296.0,317.2 281.7,327.0 267.3,336.8 252.9,346.6 238.5,356.4 224.1,366.2 209.7,376.0 195.4,385.9 181.0,395.8 166.6,405.8 152.2,415.8 137.8,425.8 123.4,435.8 109.1,445.8 94.7,455.8 80.3,465.8" fill="#8c8c8c" fill-opacity=".2"/>
<line x1="80.3" y1="464.0" x2="655.6" y2="68.9" stroke="#000" stroke-width="2.7"/>
<line x1="199.9" y1="486.9" x2="199.9" y2="48.1" stroke="#ff2a12" stroke-width="2" stroke-dasharray="6.4 6.32"/>
<line x1="224.7" y1="486.9" x2="224.7" y2="48.1" stroke="#1030ff" stroke-width="2" stroke-dasharray="6.4 6.32"/>
<line x1="271.3" y1="486.9" x2="271.3" y2="42.8" stroke="#a020f0" stroke-width="3.7" stroke-dasharray="13.5 14.05"/>
<line x1="51.6" y1="366.35" x2="685" y2="366.35" stroke="#0a22ff" stroke-width="3.7" stroke-dasharray="13.7 13.8"/>
<line x1="51.6" y1="382.0" x2="685" y2="382.0" stroke="#ff2200" stroke-width="3.7" stroke-dasharray="13.7 13.8"/>
<circle cx="200" cy="381.8" r="5.3" fill="#000"/><circle cx="224.7" cy="366.1" r="5.3" fill="#000"/>
<path d="M51.6 42.8V486.9H685" fill="none" stroke="#1a1a1a" stroke-width="1.3"/>
<path d="M162.8 486.9v3.6M199.9 486.9v3.6M224.7 486.9v3.6M318.0 486.9v3.6M473.2 486.9v3.6M628.2 486.9v3.6M51.6 432.7h-3.6M51.6 354.3h-3.6M51.6 275.9h-3.6M51.6 197.6h-3.6M51.6 119.2h-3.6" stroke="#1a1a1a" stroke-width="1.3" fill="none"/>
<g font-size="16.5" fill="#262626" text-anchor="middle">
<text transform="translate(162.4 504.2) scale(.905 1)">20</text>
<text transform="translate(198.1 504.2) scale(.905 1)">25</text>
<text transform="translate(224.7 504.2) scale(.905 1)">29</text>
<text transform="translate(318.0 504.2) scale(.905 1)">40</text>
<text transform="translate(472.9 504.2) scale(.905 1)">60</text>
<text transform="translate(628.0 504.2) scale(.905 1)">80</text>
</g><g font-size="16.5" fill="#262626" text-anchor="end">
<text transform="translate(44.5 439.3) scale(.905 1)">10</text>
<text transform="translate(44.5 360.9) scale(.905 1)">20</text>
<text transform="translate(44.5 282.6) scale(.905 1)">30</text>
<text transform="translate(44.5 204.2) scale(.905 1)">40</text>
<text transform="translate(44.5 125.8) scale(.905 1)">50</text>
</g>
<text transform="translate(367.4 528.7) scale(1 1.035)" font-size="24.8" text-anchor="middle" fill="#000">LAV/BSA (ml/m2)</text>
<text transform="translate(19.7 264.7) rotate(-90) scale(1 1.035)" font-size="24.95" text-anchor="middle" fill="#000">LAV/h2 (ml/m2)</text>
<text transform="translate(149.3 18.45) scale(1 1.035)" font-size="25.0" text-anchor="start" fill="#000">LAe groups</text>
<circle cx="299.9" cy="9.35" r="3.7" fill="#007dff"/><text transform="translate(322.6 18.45) scale(1 1.035)" font-size="24.5" text-anchor="start" fill="#000">Norm</text>
<circle cx="406.7" cy="9.35" r="3.7" fill="#ff3535"/><text transform="translate(430 18.45) scale(1 1.035)" font-size="24.5" text-anchor="start" fill="#000">DilH</text>
<circle cx="499.6" cy="9.35" r="3.7" fill="#04ca04"/><text transform="translate(523 18.45) scale(1 1.035)" font-size="24.5" text-anchor="start" fill="#000">DilHB</text>
<text transform="translate(284.3 86.5) scale(1 1.035)" font-size="17.8" text-anchor="start" fill="#333">LAV/h2 = 34 ml/m2</text>
<text transform="translate(345.5 355.9) scale(1 1.035)" font-size="17.8" text-anchor="start" fill="#333">LAV/h2 = 18.5 ml/m2</text>
<text transform="translate(457.6 402.8) scale(1 1.035)" font-size="17.8" text-anchor="start" fill="#333">LAV/h2 = 16.5 ml/m2</text>
<text transform="translate(454.5 295) scale(1 1.035)" font-size="24.0" text-anchor="start" fill="#000"><tspan font-style="italic">R</tspan> = 0.98, <tspan font-style="italic">p</tspan> &lt; 0.001</text>
</svg>
</body></html>
